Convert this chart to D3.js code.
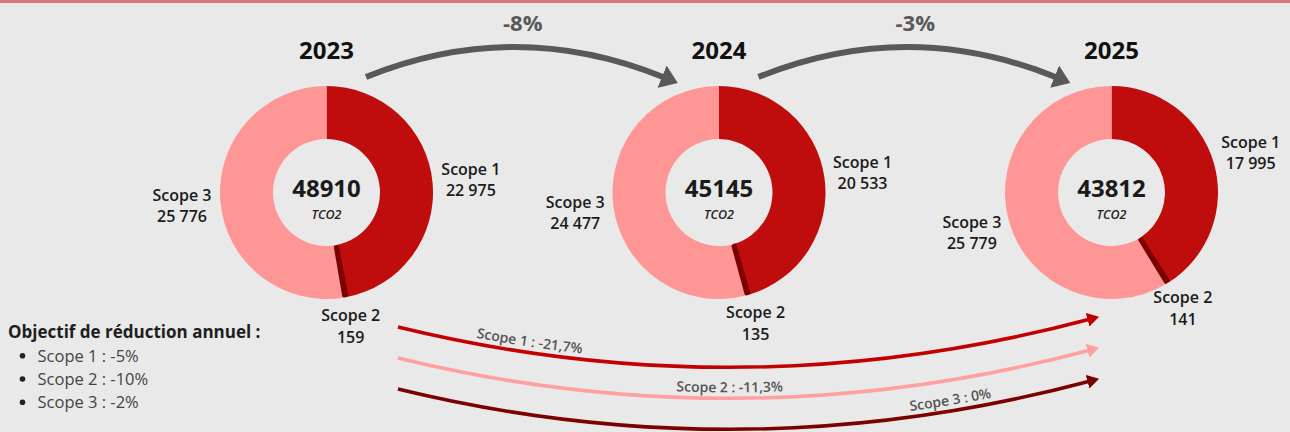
<!DOCTYPE html>
<meta charset="utf-8">
<script src="https://cdnjs.cloudflare.com/ajax/libs/d3/7.8.5/d3.min.js"></script>
<style>
body { margin: 0; background: #e9e9e9; }
text { font-family: "Open Sans", sans-serif; }
</style>
<body>
<script>

// data
var years = ["2023", "2024", "2025"];
var scopes = ["Scope 1", "Scope 2", "Scope 3"];
var scope1 = [22975, 20533, 17995];
var scope2 = [159, 135, 141];
var scope3 = [25776, 24477, 25779];
var totals = [48910, 45145, 43812];
var targets = ["-5%", "-10%", "-2%"];

var width = 1290, height = 432;
var colors = ["#bf0d0d", "#7b0000", "#ff9696"];
var flowColors = ["#c20000", "#ff9f9f", "#7b0000"];

var fr = d3.formatLocale({decimal: ",", thousands: " ", grouping: [3], currency: ["", " €"], minus: "-"});
var fmtNum = fr.format(",d");

function pctLabel(a, b) {
  var p = Math.round((b / a - 1) * 1000) / 10;
  return (p === 0 ? "0" : fr.format(".1f")(p)) + "%";
}

var svg = d3.select("body").append("svg")
  .attr("width", width)
  .attr("height", height);

svg.append("rect").attr("width", width).attr("height", height).attr("fill", "#e9e9e9");
svg.append("rect").attr("width", width).attr("height", 3).attr("fill", "#d9797b");

var defs = svg.append("defs");
function addMarker(id, color, len, wid) {
  defs.append("marker")
    .attr("id", id)
    .attr("markerUnits", "userSpaceOnUse")
    .attr("viewBox", "0 " + (-wid / 2) + " " + len + " " + wid)
    .attr("refX", 1).attr("refY", 0)
    .attr("markerWidth", len).attr("markerHeight", wid)
    .attr("orient", "auto")
    .append("path")
    .attr("d", "M0," + (-wid / 2) + "L" + len + ",0L0," + (wid / 2) + "Z")
    .attr("fill", color);
}

// curved line between two points, sag > 0 bows downward
function bow(x0, y0, x1, y1, sag) {
  var mx = (x0 + x1) / 2, my = (y0 + y1) / 2;
  var p = d3.path();
  p.moveTo(x0, y0);
  p.quadraticCurveTo(mx, my + 2 * sag, x1, y1);
  return p.toString();
}

var x = d3.scalePoint().domain(years).range([326.5, 1111.5]);
var cy = 192.5;
var rOut = 106.5, rIn = 53.5;

var pie = d3.pie().sort(null).value(function(d) { return d.value; });
var arc = d3.arc().innerRadius(rIn).outerRadius(rOut);
var arcThin = d3.arc().innerRadius(rIn + 2).outerRadius(rOut - 2);
function labelArc(r) { return d3.arc().innerRadius(r).outerRadius(r); }

// year titles
svg.selectAll(".year").data(years).enter().append("text")
  .attr("class", "year")
  .attr("x", function(d) { return x(d); })
  .attr("y", 59)
  .attr("text-anchor", "middle")
  .style("font-size", "24px").style("font-weight", 700)
  .attr("fill", "#111")
  .text(function(d) { return d; });

// donuts
var donuts = svg.selectAll(".donut").data(years).enter().append("g")
  .attr("class", "donut")
  .attr("transform", function(d) { return "translate(" + x(d) + "," + cy + ")"; });

donuts.each(function(year, i) {
  var g = d3.select(this);
  var vals = [scope1[i], scope2[i], scope3[i]].map(function(v, k) {
    return {scope: scopes[k], value: v, k: k};
  });
  var slices = pie(vals);
  // scope 2 drawn last so its thin slice stays visible
  var order = [slices[0], slices[2], slices[1]];

  g.selectAll("path").data(order).enter().append("path")
    .attr("d", function(d) { return d.data.k == 1 ? arcThin(d) : arc(d); })
    .attr("fill", function(d) { return colors[d.data.k]; })
    .attr("stroke", function(d) { return d.data.k == 1 ? colors[1] : "none"; })
    .attr("stroke-width", 4)
    .attr("stroke-linejoin", "round");

  g.selectAll(".lbl").data(slices).enter().append("text")
    .attr("class", "lbl")
    .attr("transform", function(d) {
      return "translate(" + labelArc(d.data.k == 1 ? 135 : 145).centroid(d) + ")";
    })
    .attr("text-anchor", "middle")
    .style("font-size", "16px").style("font-weight", 600)
    .attr("fill", "#1b1b1b")
    .each(function(d) {
      var t = d3.select(this);
      t.append("tspan").attr("x", 0).attr("y", -4).text(d.data.scope);
      t.append("tspan").attr("x", 0).attr("y", 17.5).text(fmtNum(d.data.value));
    });

  g.append("text")
    .attr("y", 4.5)
    .attr("text-anchor", "middle")
    .style("font-size", "24px").style("font-weight", 700)
    .attr("fill", "#1b1b1b")
    .text(totals[i]);

  g.append("text")
    .attr("y", 26.5)
    .attr("text-anchor", "middle")
    .style("font-size", "12.5px").style("font-weight", 600).style("font-style", "italic")
    .attr("fill", "#222")
    .text("TCO2");
});

// year-to-year arrows
addMarker("headGrey", "#595959", 17, 24);
var steps = d3.pairs(d3.range(years.length));

svg.selectAll(".step").data(steps).enter().append("path")
  .attr("class", "step")
  .attr("d", function(d) {
    return bow(x(years[d[0]]) + 39.5, 77, x(years[d[1]]) - 56, 77, -30);
  })
  .attr("fill", "none")
  .attr("stroke", "#595959")
  .attr("stroke-width", 6)
  .attr("marker-end", "url(#headGrey)");

svg.selectAll(".stepLbl").data(steps).enter().append("text")
  .attr("class", "stepLbl")
  .attr("x", function(d) { return (x(years[d[0]]) + x(years[d[1]])) / 2; })
  .attr("y", 31)
  .attr("text-anchor", "middle")
  .style("font-size", "22px").style("font-weight", 700)
  .attr("fill", "#595959")
  .text(function(d) {
    return Math.round((totals[d[1]] / totals[d[0]] - 1) * 100) + "%";
  });

// 2023 -> 2025 change per scope
var first = [scope1[0], scope2[0], scope3[0]];
var last = [scope1[2], scope2[2], scope3[2]];
var yFlow = d3.scalePoint().domain(scopes).range([327, 389]);
var flowOffsets = ["19%", "48%", "80%"];

scopes.forEach(function(s, k) {
  addMarker("headFlow" + k, flowColors[k], 12, 14);
});

svg.selectAll(".flow").data(scopes).enter().append("path")
  .attr("class", "flow")
  .attr("id", function(d, k) { return "flow" + k; })
  .attr("d", function(d) {
    var y0 = yFlow(d);
    return bow(x(years[0]) + 71.5, y0, x(years[2]) - 23, y0 - 7.5, 44);
  })
  .attr("fill", "none")
  .attr("stroke", function(d, k) { return flowColors[k]; })
  .attr("stroke-width", 3.5)
  .attr("marker-end", function(d, k) { return "url(#headFlow" + k + ")"; });

svg.selectAll(".flowLbl").data(scopes).enter().append("text")
  .attr("class", "flowLbl")
  .attr("dy", -6)
  .style("font-size", "14px").style("font-weight", 600)
  .attr("fill", "#555")
  .append("textPath")
  .attr("href", function(d, k) { return "#flow" + k; })
  .attr("startOffset", function(d, k) { return flowOffsets[k]; })
  .attr("text-anchor", "middle")
  .text(function(d, k) { return d + " : " + pctLabel(first[k], last[k]); });

// annual target legend
svg.append("text")
  .attr("x", 8).attr("y", 338)
  .style("font-size", "17px").style("font-weight", 700)
  .attr("fill", "#1e1e1e")
  .text("Objectif de réduction annuel :");

var items = svg.selectAll(".item").data(scopes).enter().append("g")
  .attr("class", "item")
  .attr("transform", function(d, k) { return "translate(0," + (361.7 + k * 23.3) + ")"; });

items.append("circle")
  .attr("cx", 22.5)
  .attr("cy", -6)
  .attr("r", 2.8)
  .attr("fill", "#222");

items.append("text")
  .attr("x", 37.5)
  .style("font-size", "16.5px")
  .attr("fill", "#444")
  .text(function(d, k) { return d + " : " + targets[k]; });

</script>
</body>
</html>
